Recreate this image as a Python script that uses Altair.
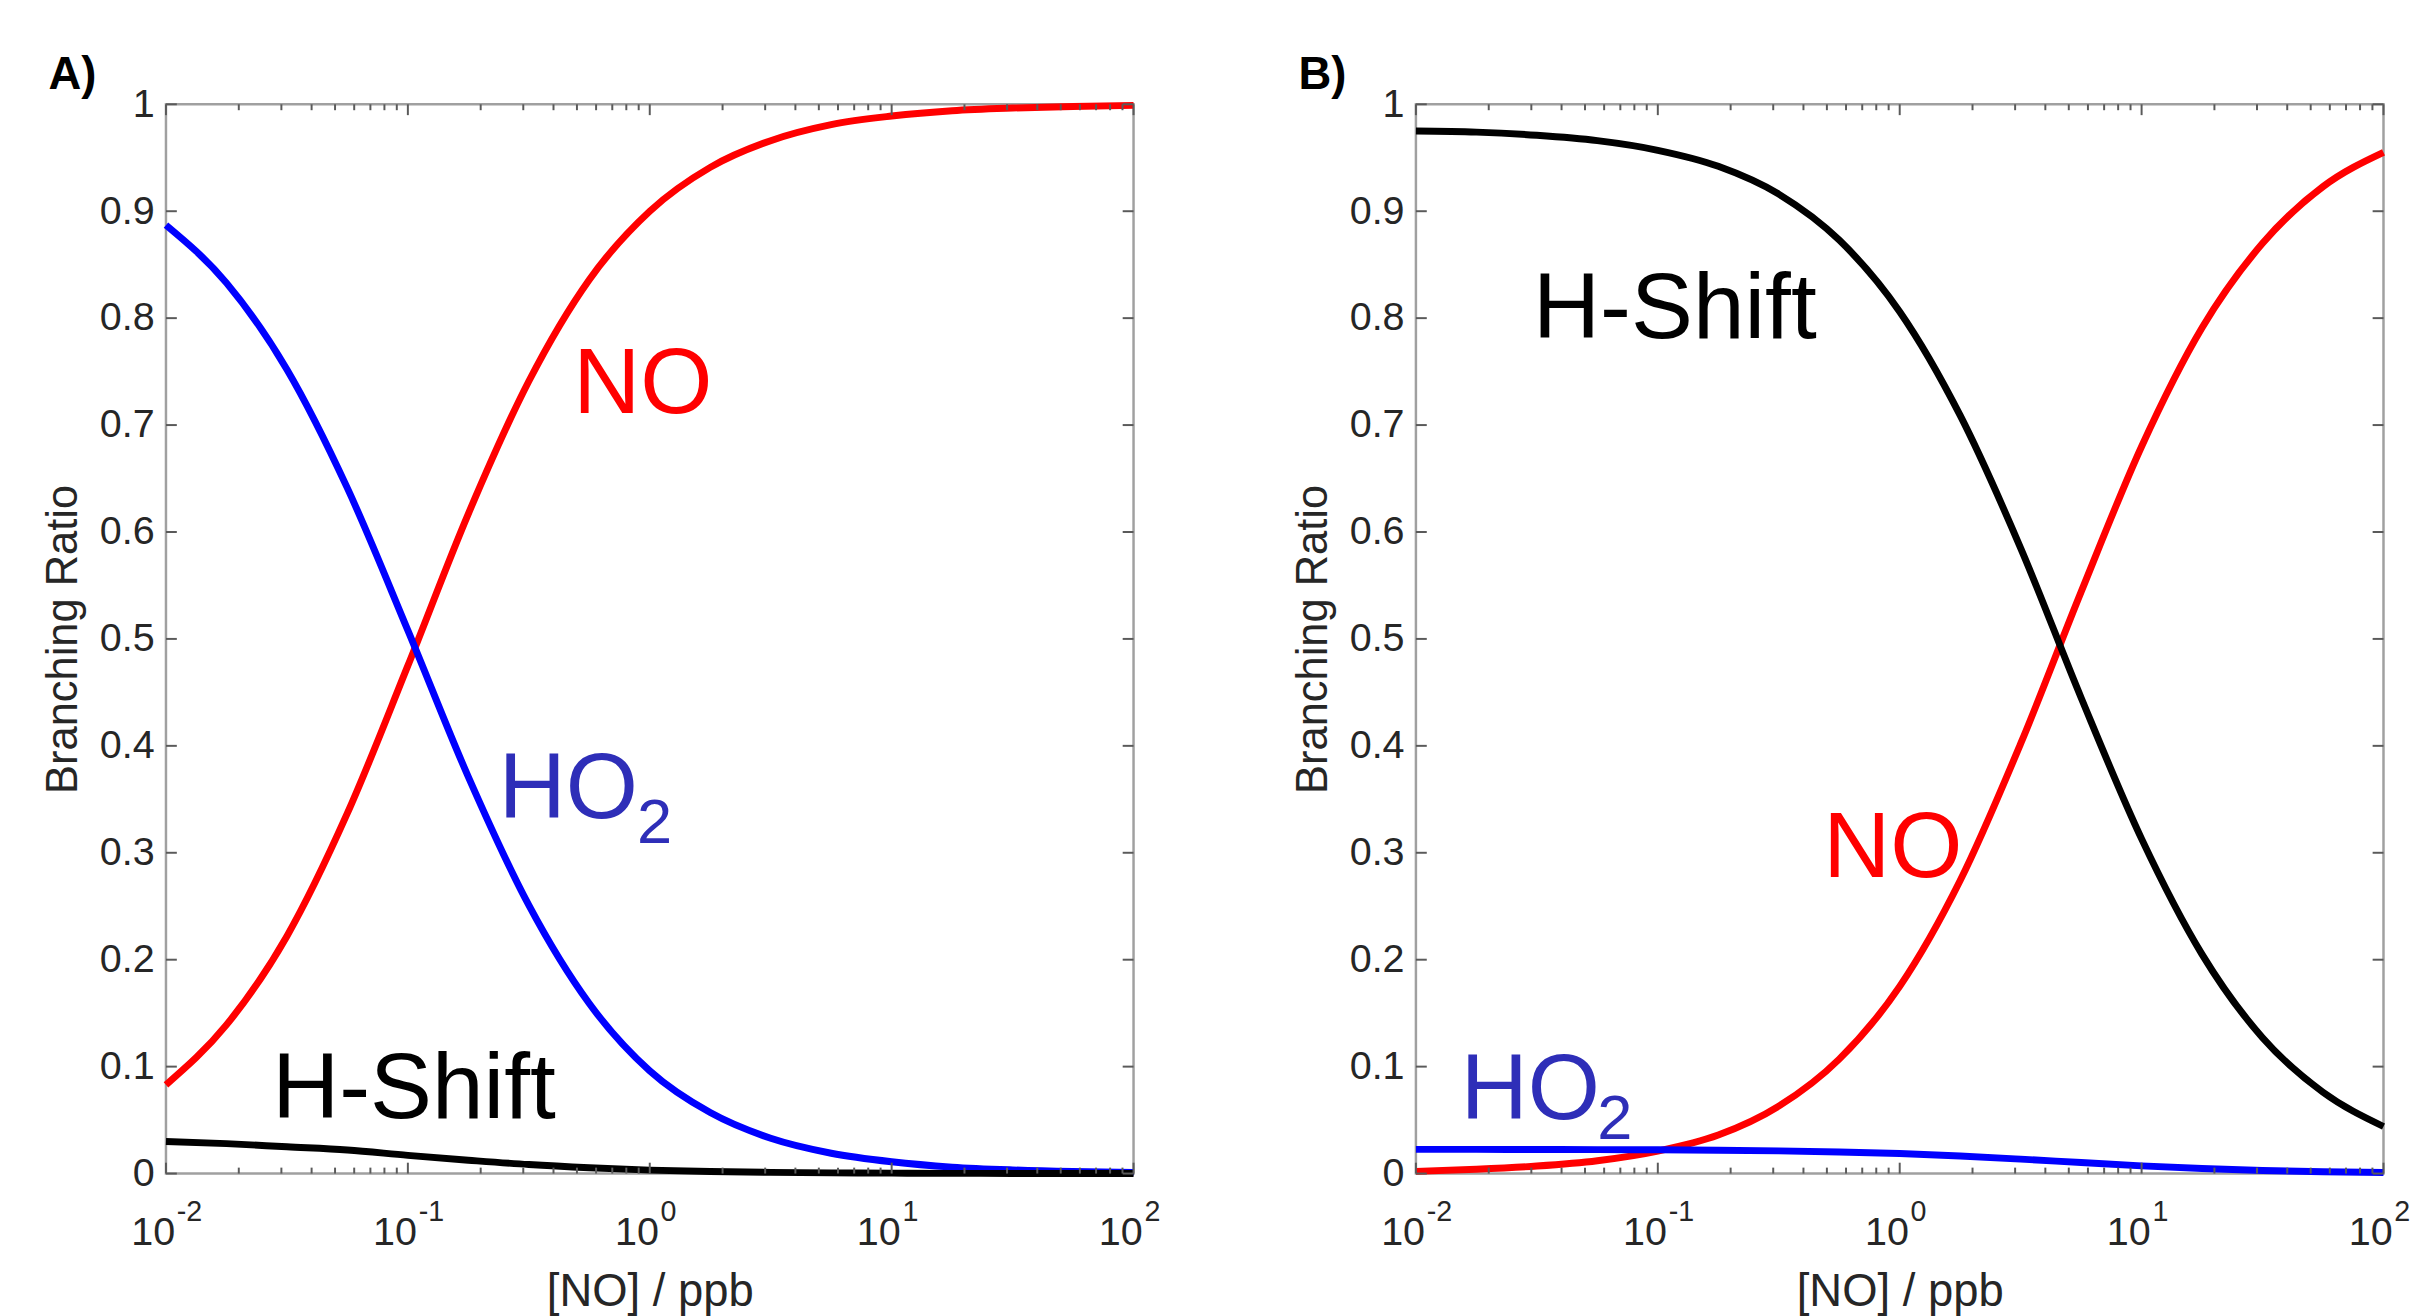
import altair as alt
import pandas as pd

# ---------------- data ----------------
X_NO = [0.01, 0.01778, 0.03162, 0.05623, 0.1, 0.1778, 0.3162, 0.5623, 1.0,
        1.778, 3.162, 5.623, 10.0, 17.78, 31.62, 56.23, 100.0]

A_NO = [0.083, 0.139, 0.222, 0.337, 0.475, 0.617, 0.741, 0.836, 0.900,
        0.941, 0.966, 0.981, 0.989, 0.994, 0.9965, 0.998, 0.999]
A_HO2 = [0.887, 0.833, 0.752, 0.641, 0.508, 0.371, 0.251, 0.159, 0.096,
         0.057, 0.033, 0.019, 0.011, 0.006, 0.0034, 0.0019, 0.0011]
A_HSHIFT = [0.030, 0.028, 0.025, 0.022, 0.017, 0.0125, 0.0084, 0.0054, 0.0032,
            0.0019, 0.0011, 0.0006, 0.0004, 0.0002, 0.0001, 0.0001, 0.0]

B_NO = [0.002, 0.004, 0.007, 0.012, 0.021, 0.036, 0.063, 0.107, 0.175,
        0.274, 0.402, 0.544, 0.680, 0.791, 0.870, 0.923, 0.955]
B_HO2 = [0.0226, 0.0226, 0.0225, 0.0224, 0.0222, 0.0218, 0.0212, 0.0202, 0.0187,
         0.0164, 0.0135, 0.0103, 0.0072, 0.0047, 0.0029, 0.0017, 0.0010]
B_HSHIFT = [0.975, 0.974, 0.971, 0.966, 0.957, 0.942, 0.916, 0.873, 0.806,
            0.709, 0.585, 0.445, 0.313, 0.205, 0.127, 0.076, 0.044]

SERIES = ["NO", "H-Shift", "HO2"]
SERIES_COLORS = ["#ff0000", "#000000", "#0000ff"]

Y_TICKS = [0.0, 0.1, 0.2, 0.3, 0.4, 0.5, 0.6, 0.7, 0.8, 0.9, 1.0]
X_MAJOR = [0.01, 0.1, 1.0, 10.0, 100.0]
X_MAJOR_EXP = ["-2", "-1", "0", "1", "2"]
X_MINOR = [m * d for d in [0.01, 0.1, 1.0, 10.0] for m in range(2, 10)]

# annotation labels (data coordinates)
A_LABELS = {"NO": (0.483, 0.711), "HO": (0.2377, 0.3327), "2": (0.885, 0.3095),
            "H-Shift": (0.02748, 0.052)}
B_LABELS = {"NO": (0.483, 0.277), "HO": (0.01531, 0.0511), "2": (0.0562, 0.0325),
            "H-Shift": (0.0305, 0.7816)}

W, H = 980, 1083
FONT = "Liberation Sans"
TXT = "#262626"
FRAME = "#a0a0a0"
TICKC = "#5a5a5a"


def panel(no, ho2, hs, labels, tag):
    rows = []
    for name, vals in zip(["NO", "HO2", "H-Shift"], [no, ho2, hs]):
        for x, y in zip(X_NO, vals):
            rows.append({"x": x, "y": y, "series": name})
    df = pd.DataFrame(rows)

    x_enc = alt.X("x:Q",
                  scale=alt.Scale(type="log", domain=[0.01, 100], nice=False),
                  axis=alt.Axis(labels=False, ticks=False, domain=False, grid=False,
                                title="[NO] / ppb", titleFont=FONT, titleFontSize=46,
                                titleFontWeight="normal", titleColor=TXT,
                                titlePadding=98))
    y_enc = alt.Y("y:Q",
                  scale=alt.Scale(domain=[0, 1], nice=False),
                  axis=alt.Axis(values=Y_TICKS, format="~g", ticks=False, domain=False,
                                grid=False, labelFont=FONT, labelFontSize=40,
                                labelColor=TXT, labelPadding=12,
                                title="Branching Ratio", titleFont=FONT,
                                titleFontSize=44, titleFontWeight="normal",
                                titleColor=TXT, titlePadding=14))

    lines = alt.Chart(df).mark_line(strokeWidth=7, interpolate="monotone").encode(
        x=x_enc, y=y_enc,
        color=alt.Color("series:N", scale=alt.Scale(domain=SERIES, range=SERIES_COLORS),
                        legend=None),
        detail="series:N",
    )

    ydf = pd.DataFrame({"y": Y_TICKS})
    majdf = pd.DataFrame({"x": X_MAJOR})
    mindf = pd.DataFrame({"x": X_MINOR})
    ytick_l = alt.Chart(ydf).mark_rule(color=TICKC, strokeWidth=2).encode(
        y=y_enc, x=alt.value(0), x2=alt.value(11))
    ytick_r = alt.Chart(ydf).mark_rule(color=TICKC, strokeWidth=2).encode(
        y=y_enc, x=alt.value(W - 11), x2=alt.value(W))
    xmaj_b = alt.Chart(majdf).mark_rule(color=TICKC, strokeWidth=2).encode(
        x=x_enc, y=alt.value(H), y2=alt.value(H - 11))
    xmaj_t = alt.Chart(majdf).mark_rule(color=TICKC, strokeWidth=2).encode(
        x=x_enc, y=alt.value(0), y2=alt.value(11))
    xmin_b = alt.Chart(mindf).mark_rule(color=TICKC, strokeWidth=2).encode(
        x=x_enc, y=alt.value(H), y2=alt.value(H - 6))
    xmin_t = alt.Chart(mindf).mark_rule(color=TICKC, strokeWidth=2).encode(
        x=x_enc, y=alt.value(0), y2=alt.value(6))

    labdf = pd.DataFrame({"x": X_MAJOR, "base": ["10"] * 5, "exp": X_MAJOR_EXP})
    xlab_base = alt.Chart(labdf).mark_text(
        font=FONT, fontSize=40, color=TXT, align="center", baseline="alphabetic",
        dx=-13).encode(x=x_enc, y=alt.value(H + 72), text="base:N")
    xlab_exp = alt.Chart(labdf).mark_text(
        font=FONT, fontSize=29, color=TXT, align="left", baseline="alphabetic",
        dx=11).encode(x=x_enc, y=alt.value(H + 48), text="exp:N")

    def ann(key, color, size):
        d = pd.DataFrame({"x": [labels[key][0]], "y": [labels[key][1]], "t": [key]})
        return alt.Chart(d).mark_text(font=FONT, fontSize=size, color=color,
                                      align="left", baseline="alphabetic").encode(
            x=x_enc, y=y_enc, text="t:N")

    ann_no = ann("NO", "#ff0000", 94)
    ann_ho = ann("HO", "#2e2eb8", 94)
    ann_2 = ann("2", "#2e2eb8", 64)
    ann_hs = ann("H-Shift", "#000000", 94)

    tagc = alt.Chart(pd.DataFrame({"t": [tag]})).mark_text(
        font=FONT, fontSize=46, fontWeight="bold", color="#000000", align="left",
        baseline="alphabetic").encode(x=alt.value(-119), y=alt.value(-15), text="t:N")

    return alt.layer(lines, ytick_l, ytick_r, xmaj_b, xmaj_t, xmin_b, xmin_t,
                     xlab_base, xlab_exp, ann_no, ann_ho, ann_2, ann_hs, tagc
                     ).properties(width=W, height=H)


pa = panel(A_NO, A_HO2, A_HSHIFT, A_LABELS, "A)")
pb = panel(B_NO, B_HO2, B_HSHIFT, B_LABELS, "B)")

chart = alt.hconcat(pa, pb, spacing=286, bounds="flush").properties(
    padding={"left": 33, "top": 35, "right": 10, "bottom": 10},
    background="white",
).configure_view(stroke=FRAME, strokeWidth=2.5)

chart.save("out.html", embed_options={"renderer": "svg", "actions": False})
